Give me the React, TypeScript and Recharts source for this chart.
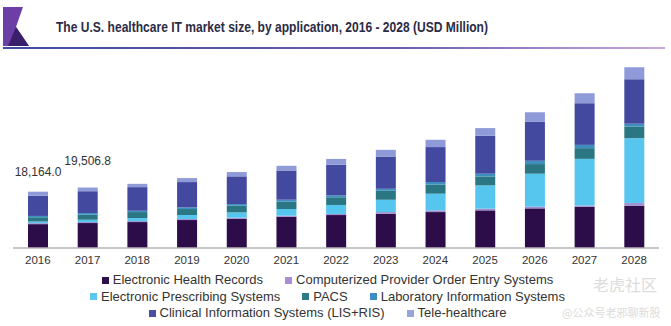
import React from 'react';
import { BarChart, Bar, XAxis, YAxis, Legend, LabelList } from 'recharts';

const years = ['2016', '2017', '2018', '2019', '2020', '2021', '2022', '2023', '2024', '2025', '2026', '2027', '2028'];
const ehr = [7700, 8050, 8370, 9020, 9440, 10080, 10630, 11050, 11590, 12140, 12780, 13300, 13620];
const cpoe = [320, 320, 320, 330, 330, 340, 350, 550, 550, 550, 550, 420, 870];
const eps = [520, 740, 970, 1290, 1710, 2160, 2900, 3960, 5380, 7500, 10630, 15040, 20930];
const pacs = [1380, 1610, 1930, 1930, 2160, 2350, 2480, 2900, 2900, 2900, 3120, 3450, 3770];
const lab = [420, 550, 420, 550, 550, 640, 640, 640, 870, 870, 1060, 1060, 870];
const cis = [6540, 7046.8, 7630, 8150, 8920, 9440, 9890, 10400, 11270, 12240, 12650, 13430, 14390];
const tele = [1284, 1190, 1060, 1290, 1390, 1510, 1840, 2160, 2350, 2480, 2990, 3220, 3860];
const totalLabels = ['18,164.0', '19,506.8', '', '', '', '', '', '', '', '', '', '', ''];

const series = [
  { key: 'ehr', name: 'Electronic Health Records', color: '#2c0d49', legend: '#2d1048' },
  { key: 'cpoe', name: 'Computerized Provider Order Entry Systems', color: '#a08fd0', legend: '#a98ed4' },
  { key: 'eps', name: 'Electronic Prescribing Systems', color: '#56c6ee', legend: '#5cc8ef' },
  { key: 'pacs', name: 'PACS', color: '#2a7783', legend: '#2e7b86' },
  { key: 'lab', name: 'Laboratory Information Systems', color: '#3d8fc0', legend: '#3c8dc7' },
  { key: 'cis', name: 'Clinical Information Systems (LIS+RIS)', color: '#4449a0', legend: '#4b4ea5' },
  { key: 'tele', name: 'Tele-healthcare', color: '#8f9ad8', legend: '#98a5dd' },
];

const legendRows = [
  ['ehr', 'cpoe'],
  ['eps', 'pacs', 'lab'],
  ['cis', 'tele'],
];

const data = years.map((y, i) => ({
  year: y,
  ehr: ehr[i],
  cpoe: cpoe[i],
  eps: eps[i],
  pacs: pacs[i],
  lab: lab[i],
  cis: cis[i],
  tele: tele[i],
}));

const font = 'Arial, "Liberation Sans", Helvetica, sans-serif';

const labelOffsets = [20, 27];

const TotalLabel = (props: any) => {
  const { x, y, width, index } = props;
  const t = totalLabels[index];
  if (!t) return null;
  return (
    <text
      x={Number(x) + Number(width) / 2}
      y={Number(y) - (labelOffsets[index] || 20)}
      textAnchor="middle"
      dominantBaseline="central"
      fontSize={12}
      fontFamily={font}
      fill="#333"
    >
      {t}
    </text>
  );
};

const LegendContent = () => (
  <div style={{ fontFamily: font, fontSize: 13, color: '#333', lineHeight: '16.5px' }}>
    {legendRows.map((row, ri) => (
      <div key={ri} style={{ display: 'flex', justifyContent: 'center', gap: 22 }}>
        {row.map((k) => {
          const s = series.find((x) => x.key === k)!;
          return (
            <span key={k} style={{ display: 'inline-flex', alignItems: 'center' }}>
              <span style={{ display: 'inline-block', width: 7, height: 7, background: s.legend, marginRight: 4 }} />
              {s.name}
            </span>
          );
        })}
      </div>
    ))}
  </div>
);

export default function App() {
  return (
    <div style={{ position: 'absolute', left: 0, top: 0, width: 671, height: 326, background: '#fff', overflow: 'hidden' }}>
      <BarChart
        width={671}
        height={326}
        data={data}
        margin={{ top: 62, right: 12, left: 13, bottom: 48 }}
        barSize={20}
      >
        <XAxis
          dataKey="year"
          tickLine={false}
          axisLine={{ stroke: '#b5b5b5', strokeWidth: 1.5 }}
          tick={{ fontSize: 11.5, fill: '#333', fontFamily: font }}
          height={30}
          interval={0}
        />
        <YAxis hide domain={[0, 60000]} allowDataOverflow />
        {series.map((s, i) => (
          <Bar key={s.key} dataKey={s.key} name={s.name} stackId="a" fill={s.color} isAnimationActive={false}>
            {i === series.length - 1 ? <LabelList content={TotalLabel} /> : null}
          </Bar>
        ))}
        <Legend
          layout="horizontal"
          verticalAlign="middle"
          align="center"
          wrapperStyle={{ top: 272, left: -8, width: 671 }}
          content={LegendContent}
        />
      </BarChart>
      <svg
        width={671}
        height={326}
        style={{ position: 'absolute', left: 0, top: 0, pointerEvents: 'none' }}
      >
        <defs>
          <linearGradient id="titleLine" x1="0" y1="0" x2="1" y2="0">
            <stop offset="0" stopColor="#3f4aa0" />
            <stop offset="0.6" stopColor="#6a5cb0" />
            <stop offset="1" stopColor="#c9a9dc" />
          </linearGradient>
        </defs>
        <polygon points="3,7 23,7 16,27 29,46 3,46" fill="#6b3fa5" />
        <polygon points="8,46 16,27 29,46" fill="#3a1f6a" />
        <rect x={3} y={47} width={662} height={2} fill="url(#titleLine)" />
        <text
          x={56}
          y={32}
          fontSize={15.5}
          fontWeight="bold"
          fontFamily={font}
          fill="#2b2b45"
          textLength={432}
          lengthAdjust="spacingAndGlyphs"
        >
          The U.S. healthcare IT market size, by application, 2016 - 2028 (USD Million)
        </text>
        <text x={593} y={291} fontSize={16} fontFamily='"Noto Sans CJK SC", sans-serif' fill="#dcdcdc">
          老虎社区
        </text>
        <text x={562} y={317} fontSize={11} fontFamily='"Noto Sans CJK SC", sans-serif' fill="#dcdcdc">
          @公众号老邪聊新股
        </text>
      </svg>
    </div>
  );
}
